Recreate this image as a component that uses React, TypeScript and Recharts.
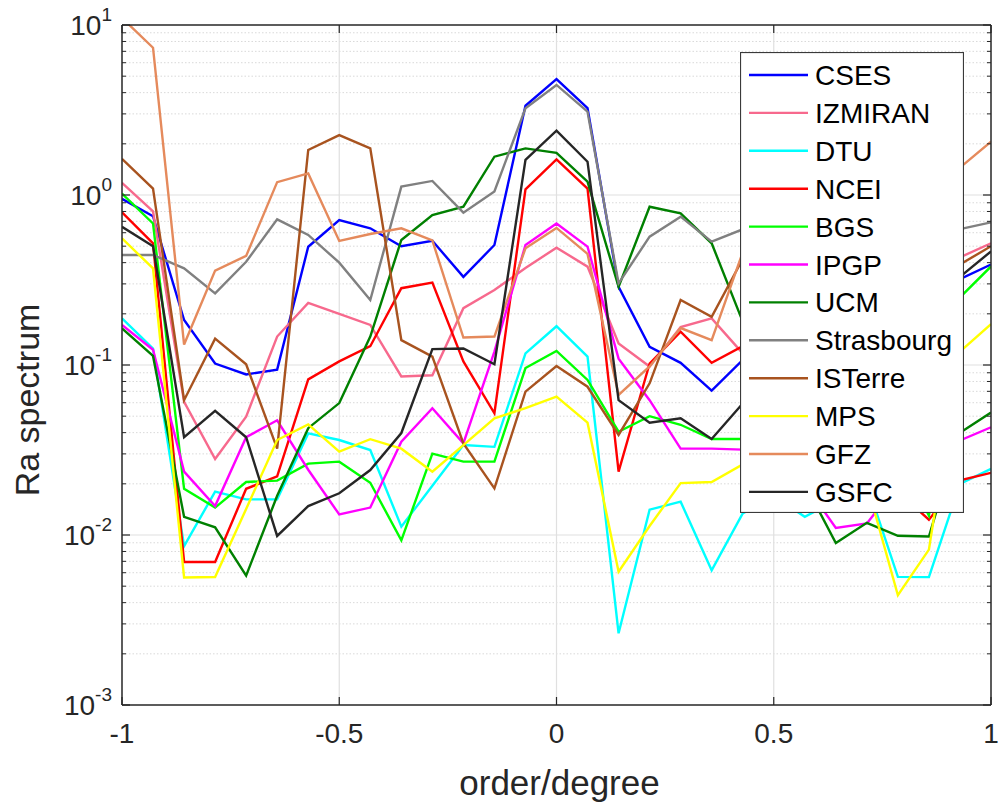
import React from 'react';
import { LineChart, Line, XAxis, YAxis, ReferenceLine, Legend, Label } from 'recharts';

const orderDegree = [-1, -0.9286, -0.8571, -0.7857, -0.7143, -0.6429, -0.5714, -0.5, -0.4286, -0.3571, -0.2857, -0.2143, -0.1429, -0.0714, 0, 0.0714, 0.1429, 0.2143, 0.2857, 0.3571, 0.4286, 0.5, 0.5714, 0.6429, 0.7143, 0.7857, 0.8571, 0.9286, 1];

const CSES = [0.95, 0.75, 0.184, 0.102, 0.088, 0.094, 0.496, 0.713, 0.637, 0.5, 0.538, 0.33, 0.508, 3.35, 4.81, 3.24, 0.288, 0.128, 0.103, 0.0707, 0.107, 0.14, 0.18, 0.22, 0.25, 0.28, 0.3, 0.32, 0.39];
const IZMIRAN = [1.18, 0.8, 0.0607, 0.028, 0.0497, 0.147, 0.232, 0.2, 0.172, 0.0856, 0.087, 0.216, 0.276, 0.372, 0.49, 0.379, 0.134, 0.098, 0.167, 0.188, 0.117, 0.15, 0.2, 0.25, 0.3, 0.35, 0.4, 0.43, 0.52];
const DTU = [0.188, 0.125, 0.0086, 0.018, 0.0162, 0.0162, 0.0396, 0.0362, 0.0316, 0.0112, 0.0195, 0.0338, 0.033, 0.117, 0.169, 0.112, 0.00264, 0.0141, 0.0157, 0.0062, 0.0134, 0.017, 0.0128, 0.016, 0.02, 0.00567, 0.00565, 0.02, 0.0245];
const NCEI = [0.79, 0.52, 0.00694, 0.00694, 0.0187, 0.0221, 0.0823, 0.105, 0.129, 0.283, 0.305, 0.105, 0.052, 1.08, 1.62, 1.09, 0.0236, 0.102, 0.157, 0.103, 0.129, 0.1, 0.07, 0.05, 0.03, 0.018, 0.0123, 0.021, 0.0232];
const BGS = [1.02, 0.68, 0.0187, 0.0145, 0.0205, 0.0209, 0.0263, 0.027, 0.0203, 0.0093, 0.0301, 0.027, 0.027, 0.096, 0.121, 0.0817, 0.0405, 0.05, 0.0445, 0.0367, 0.0367, 0.04, 0.05, 0.06, 0.05, 0.03, 0.013, 0.25, 0.38];
const IPGP = [0.172, 0.123, 0.0236, 0.0148, 0.0376, 0.0473, 0.0242, 0.0132, 0.0145, 0.0354, 0.0557, 0.0346, 0.12, 0.508, 0.68, 0.497, 0.109, 0.0621, 0.0322, 0.0322, 0.0318, 0.03, 0.02, 0.011, 0.0117, 0.02, 0.025, 0.036, 0.043];
const UCM = [0.164, 0.113, 0.0128, 0.0111, 0.00577, 0.017, 0.0425, 0.0597, 0.147, 0.544, 0.763, 0.853, 1.68, 1.88, 1.77, 1.2, 0.288, 0.853, 0.78, 0.52, 0.18, 0.06, 0.02, 0.00897, 0.0118, 0.0099, 0.0098, 0.04, 0.0525];
const Strasbourg = [0.444, 0.444, 0.37, 0.264, 0.405, 0.719, 0.582, 0.4, 0.241, 1.12, 1.21, 0.787, 1.05, 3.24, 4.44, 3.09, 0.302, 0.569, 0.746, 0.531, 0.628, 0.6, 0.55, 0.5, 0.5, 0.52, 0.55, 0.63, 0.69];
const ISTerre = [1.63, 1.09, 0.0621, 0.143, 0.101, 0.0322, 1.84, 2.25, 1.88, 0.14, 0.112, 0.0346, 0.0188, 0.0697, 0.0987, 0.0745, 0.0388, 0.078, 0.241, 0.192, 0.42, 0.35, 0.3, 0.25, 0.2, 0.15, 0.25, 0.39, 0.5];
const MPS = [0.556, 0.37, 0.00563, 0.00566, 0.0142, 0.0362, 0.0447, 0.0309, 0.0366, 0.0322, 0.0236, 0.0338, 0.0486, 0.0557, 0.0652, 0.0458, 0.00608, 0.0113, 0.0202, 0.0205, 0.026, 0.03, 0.035, 0.03, 0.02, 0.00442, 0.0082, 0.12, 0.174];
const GFZ = [11, 7.35, 0.132, 0.359, 0.438, 1.19, 1.34, 0.537, 0.59, 0.637, 0.54, 0.145, 0.147, 0.486, 0.64, 0.45, 0.0667, 0.098, 0.165, 0.14, 0.46, 0.5, 0.6, 0.7, 0.8, 0.9, 1.1, 1.45, 2.06];
const GSFC = [0.65, 0.5, 0.0376, 0.0538, 0.0376, 0.00987, 0.0148, 0.0176, 0.0241, 0.0398, 0.124, 0.125, 0.101, 1.61, 2.39, 1.57, 0.0621, 0.0458, 0.0486, 0.0367, 0.0594, 0.07, 0.08, 0.1, 0.12, 0.15, 0.2, 0.33, 0.466];

const seriesNames = ['CSES', 'IZMIRAN', 'DTU', 'NCEI', 'BGS', 'IPGP', 'UCM', 'Strasbourg', 'ISTerre', 'MPS', 'GFZ', 'GSFC'];
const seriesValues = [CSES, IZMIRAN, DTU, NCEI, BGS, IPGP, UCM, Strasbourg, ISTerre, MPS, GFZ, GSFC];
const seriesColors = ['#0000FF', '#F7698D', '#00FFFF', '#FF0000', '#00FF00', '#FF00FF', '#008000', '#808080', '#A8531F', '#FFFF00', '#E58A5C', '#262626'];

const xTicks = [-1, -0.5, 0, 0.5, 1];
const xTickLabels = ['-1', '-0.5', '0', '0.5', '1'];
const yTicks = [0.001, 0.01, 0.1, 1, 10];
const yExponents = ['-3', '-2', '-1', '0', '1'];
const minorMultipliers = [2, 3, 4, 5, 6, 7, 8, 9];
const yMinor = [0.001, 0.01, 0.1, 1].flatMap((d) => minorMultipliers.map((m) => +(m * d).toPrecision(3)));

const data = orderDegree.map((x, i) => {
  const row: Record<string, number> = { x };
  seriesNames.forEach((n, k) => { row[n] = seriesValues[k][i]; });
  return row;
});

const FONT = '"Liberation Sans", Arial, Helvetica, sans-serif';
const TXT = '#262626';

const YTick = (props: any) => {
  const { x, y, payload } = props;
  const idx = yTicks.findIndex((t) => Math.abs(t - payload.value) / t < 1e-6);
  const exp = idx >= 0 ? yExponents[idx] : '';
  return (
    <text x={x} y={y} textAnchor="end" fontFamily={FONT} fill={TXT} fontSize={28}>
      <tspan dy={10}>10</tspan>
      <tspan dy={-14} fontSize={19}>{exp}</tspan>
    </text>
  );
};

const LegendBox = () => (
  <svg width={224} height={461} style={{ display: 'block' }}>
    <rect x={0.5} y={0.5} width={223} height={460} fill="#fff" stroke="#3a3a3a" strokeWidth={1.2} />
    {seriesNames.map((n, k) => {
      const cy = 23 + k * 37.9;
      return (
        <g key={n}>
          <line x1={9} x2={68} y1={cy} y2={cy} stroke={seriesColors[k]} strokeWidth={2.4} />
          <text x={75} y={cy + 10} fontFamily={FONT} fontSize={28} fill="#000">{n}</text>
        </g>
      );
    })}
  </svg>
);

const tickX = 0.0184; // ~8px in x units
const tickXMinor = 0.0092;
const tickYFactor = 1.1145; // ~8px in log-y

export default function App() {
  return (
    <div style={{ position: 'absolute', left: 0, top: 0, width: 998, height: 805, background: '#fff' }}>
      <LineChart width={998} height={805} data={data} margin={{ top: 25, right: 7, bottom: 40, left: 0 }}>
        <XAxis
          dataKey="x"
          type="number"
          domain={[-1, 1]}
          ticks={xTicks}
          interval={0}
          allowDataOverflow
          height={60}
          axisLine={false}
          tickLine={false}
          tickSize={0}
          tickMargin={18}
          tickFormatter={(v: number) => xTickLabels[xTicks.indexOf(v)] ?? String(v)}
          tick={{ fontSize: 28, fill: TXT, fontFamily: FONT }}
        >
          <Label
            content={(p: any) => {
              const vb = p.viewBox;
              return (
                <text x={vb.x + vb.width / 2 + 3} y={vb.y + 90} textAnchor="middle" fontFamily={FONT} fontSize={35} fill={TXT}>
                  order/degree
                </text>
              );
            }}
          />
        </XAxis>
        <YAxis
          type="number"
          scale="log"
          domain={[0.001, 10]}
          ticks={yTicks}
          interval={0}
          allowDataOverflow
          width={122}
          axisLine={false}
          tickLine={false}
          tickSize={0}
          tickMargin={10}
          tick={<YTick />}
        >
          <Label
            content={(p: any) => {
              const vb = p.viewBox;
              const cy = vb.y + vb.height / 2 + 35;
              return (
                <text x={39} y={cy} transform={`rotate(-90, 39, ${cy})`} textAnchor="middle" fontFamily={FONT} fontSize={34} fill={TXT}>
                  Ra spectrum
                </text>
              );
            }}
          />
        </YAxis>

        {yMinor.map((v) => (
          <ReferenceLine key={'ym' + v} y={v} stroke="#d9d9d9" strokeWidth={1} strokeDasharray="1.5 2" />
        ))}
        {[0.01, 0.1, 1].map((v) => (
          <ReferenceLine key={'yM' + v} y={v} stroke="#e0e0e0" strokeWidth={1.2} />
        ))}
        {[-0.5, 0, 0.5].map((v) => (
          <ReferenceLine key={'xM' + v} x={v} stroke="#e0e0e0" strokeWidth={1.2} />
        ))}

        {seriesNames.map((n, k) => (
          <Line
            key={n}
            dataKey={n}
            type="linear"
            stroke={seriesColors[k]}
            strokeWidth={2.4}
            dot={false}
            isAnimationActive={false}
            legendType="line"
          />
        ))}

        {yTicks.map((v) => (
          <ReferenceLine key={'tl' + v} segment={[{ x: -1, y: v }, { x: -1 + tickX, y: v }]} stroke="#262626" strokeWidth={1.2} />
        ))}
        {yTicks.map((v) => (
          <ReferenceLine key={'tr' + v} segment={[{ x: 1 - tickX, y: v }, { x: 1, y: v }]} stroke="#262626" strokeWidth={1.2} />
        ))}
        {yMinor.map((v) => (
          <ReferenceLine key={'tml' + v} segment={[{ x: -1, y: v }, { x: -1 + tickXMinor, y: v }]} stroke="#262626" strokeWidth={1} />
        ))}
        {yMinor.map((v) => (
          <ReferenceLine key={'tmr' + v} segment={[{ x: 1 - tickXMinor, y: v }, { x: 1, y: v }]} stroke="#262626" strokeWidth={1} />
        ))}
        {xTicks.map((v) => (
          <ReferenceLine key={'tb' + v} segment={[{ x: v, y: 0.001 }, { x: v, y: 0.001 * tickYFactor }]} stroke="#262626" strokeWidth={1.2} />
        ))}
        {xTicks.map((v) => (
          <ReferenceLine key={'tt' + v} segment={[{ x: v, y: 10 / tickYFactor }, { x: v, y: 10 }]} stroke="#262626" strokeWidth={1.2} />
        ))}

        <ReferenceLine y={10} stroke="#262626" strokeWidth={1.5} />
        <ReferenceLine y={0.001} stroke="#262626" strokeWidth={1.5} />
        <ReferenceLine x={-1} stroke="#262626" strokeWidth={1.5} />
        <ReferenceLine x={1} stroke="#262626" strokeWidth={1.5} />

        <Legend
          layout="vertical"
          align="center"
          verticalAlign="middle"
          content={() => <LegendBox />}
          wrapperStyle={{ position: 'absolute', left: 740, top: 52, width: 224, height: 461, margin: 0, padding: 0 }}
        />
      </LineChart>
    </div>
  );
}
